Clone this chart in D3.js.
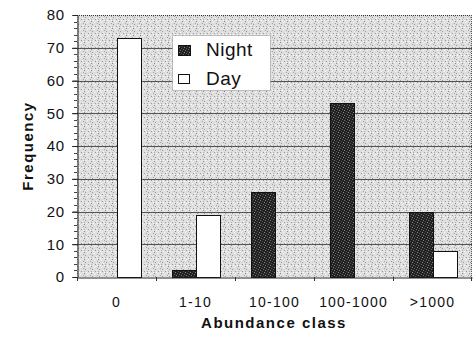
<!DOCTYPE html>
<html><head><meta charset="utf-8">
<script src="https://cdn.jsdelivr.net/npm/d3@7"></script>
<style>body{margin:0;background:#fff}svg{display:block}text{font-family:Arial,"Liberation Sans",sans-serif;fill:#111}</style>
</head><body>
<script>
const categories = ["0","1-10","10-100","100-1000",">1000"];
const series = ["Night","Day"];
const nightValues = [0,2,26,53,20];
const dayValues = [73,19,0,0,8];
const yTicks = [0,10,20,30,40,50,60,70,80];

const W=474,H=338;
const m={l:77,r:2,t:15,b:61};
const svg=d3.select("body").append("svg").attr("width",W).attr("height",H);
const defs=svg.append("defs");
// stipple pattern for background
const bg=defs.append("pattern").attr("id","bgp").attr("width",7).attr("height",7).attr("patternUnits","userSpaceOnUse");
bg.append("rect").attr("width",7).attr("height",7).attr("fill","#dedede");
[[0,0,"#8a8a8a"],[3,1,"#f6f6f6"],[1,3,"#9a9a9a"],[5,4,"#f2f2f2"],[6,2,"#a5a5a5"],[2,6,"#fff"],[4,0,"#eee"],[0,5,"#b0b0b0"],[4,5,"#999"],[6,6,"#f8f8f8"]].forEach(([x,y,c])=>bg.append("rect").attr("x",x).attr("y",y).attr("width",1).attr("height",1).attr("fill",c));
const np=defs.append("pattern").attr("id","nightp").attr("width",5).attr("height",5).attr("patternUnits","userSpaceOnUse");
np.append("rect").attr("width",5).attr("height",5).attr("fill","#222");
[[0,0,"#777"],[2,1,"#4a4a4a"],[4,2,"#888"],[1,3,"#555"],[3,4,"#666"]].forEach(([x,y,c])=>np.append("rect").attr("x",x).attr("y",y).attr("width",1).attr("height",1).attr("fill",c));

const x0=d3.scaleBand().domain(categories).range([m.l,W-m.r]).padding(0);
const x1=d3.scaleBand().domain(series).range([0,x0.bandwidth()]).paddingInner(0).paddingOuter(0.68);
const y=d3.scaleLinear().domain([0,80]).range([H-m.b,m.t]);

// plot background
svg.append("rect").attr("x",m.l).attr("y",m.t).attr("width",W-m.r-m.l).attr("height",H-m.b-m.t).attr("fill","url(#bgp)");

// gridlines
svg.append("g").selectAll("line").data(yTicks.filter(d=>d>0&&d<80)).join("line")
 .attr("x1",m.l-5).attr("x2",W-m.r).attr("y1",d=>Math.round(y(d))+0.5).attr("y2",d=>Math.round(y(d))+0.5)
 .attr("stroke","#555").attr("stroke-width",1);
// top & right border dotted
svg.append("line").attr("x1",m.l).attr("x2",W-m.r).attr("y1",m.t+0.5).attr("y2",m.t+0.5).attr("stroke","#333").attr("stroke-dasharray","1,1");
svg.append("line").attr("x1",W-m.r-0.5).attr("x2",W-m.r-0.5).attr("y1",m.t).attr("y2",H-m.b).attr("stroke","#555").attr("stroke-dasharray","1,1");

// bars
const rows=categories.map((c,i)=>({c,vals:[{s:"Night",v:nightValues[i]},{s:"Day",v:dayValues[i]}]}));
const g=svg.append("g").selectAll("g").data(rows).join("g").attr("transform",d=>`translate(${x0(d.c)},0)`);
g.selectAll("rect").data(d=>d.vals.filter(v=>v.v>0)).join("rect")
 .attr("x",d=>Math.round(x1(d.s))+0.5).attr("width",Math.round(x1.bandwidth()))
 .attr("y",d=>Math.round(y(d.v))+0.5).attr("height",d=>Math.round(y(0))-Math.round(y(d.v)))
 .attr("fill",d=>d.s==="Night"?"url(#nightp)":"#fff").attr("stroke","#111").attr("stroke-width",1);

// y axis
const ya=svg.append("g").attr("transform",`translate(${m.l+0.5},0)`)
 .call(d3.axisLeft(y).tickValues(yTicks).tickSize(5).tickPadding(8).tickFormat(d3.format("d")));
ya.select(".domain").attr("stroke","#222");
ya.selectAll(".tick line").attr("stroke","#222");
ya.selectAll("text").attr("font-size",15).attr("fill","#111").style("letter-spacing","0.5px").style("font-family","Arial, 'Liberation Sans', sans-serif");
// minor ticks
svg.append("g").selectAll("line").data(d3.range(0,81,2).filter(d=>d%10)).join("line")
 .attr("x1",m.l-3).attr("x2",m.l).attr("y1",d=>Math.round(y(d))+0.5).attr("y2",d=>Math.round(y(d))+0.5).attr("stroke","#444");

// x axis
const xa=svg.append("g").attr("transform",`translate(0,${Math.round(y(0))+0.5})`)
 .call(d3.axisBottom(x0).tickSize(0).tickPadding(20));
xa.select(".domain").attr("stroke","#222");
xa.selectAll("text").attr("font-size",14).attr("fill","#111").style("letter-spacing","1.2px").style("font-family","Arial, 'Liberation Sans', sans-serif");
svg.append("g").selectAll("line").data(categories.concat(["end"])).join("line")
 .attr("x1",(d,i)=>i<categories.length?Math.round(x0(d))+0.5:W-m.r-0.5)
 .attr("x2",(d,i)=>i<categories.length?Math.round(x0(d))+0.5:W-m.r-0.5)
 .attr("y1",Math.round(y(0))).attr("y2",Math.round(y(0))+4).attr("stroke","#333");

// axis titles
svg.append("text").attr("x",274).attr("y",328).attr("text-anchor","middle").attr("font-size",15).attr("font-weight","bold").style("letter-spacing","1.5px").text("Abundance class");
svg.append("text").attr("transform","translate(33,146) rotate(-90)").attr("text-anchor","middle").attr("font-size",15).attr("font-weight","bold").style("letter-spacing","1.5px").text("Frequency");

// legend
const lg=svg.append("g");
lg.append("rect").attr("x",172.5).attr("y",35.5).attr("width",98).attr("height",55).attr("fill","#fff").attr("stroke","#888").attr("stroke-dasharray","1,1");
series.forEach((s,i)=>{
  const yy=45+i*29;
  lg.append("rect").attr("x",178.5).attr("y",yy+0.5).attr("width",s==="Night"?12:11).attr("height",s==="Night"?10:9).attr("fill",s==="Night"?"url(#nightp)":"#fff").attr("stroke","#111");
  lg.append("text").attr("x",206).attr("y",yy+11).attr("font-size",19).style("letter-spacing","0.5px").text(s);
});
</script>
</body></html>
